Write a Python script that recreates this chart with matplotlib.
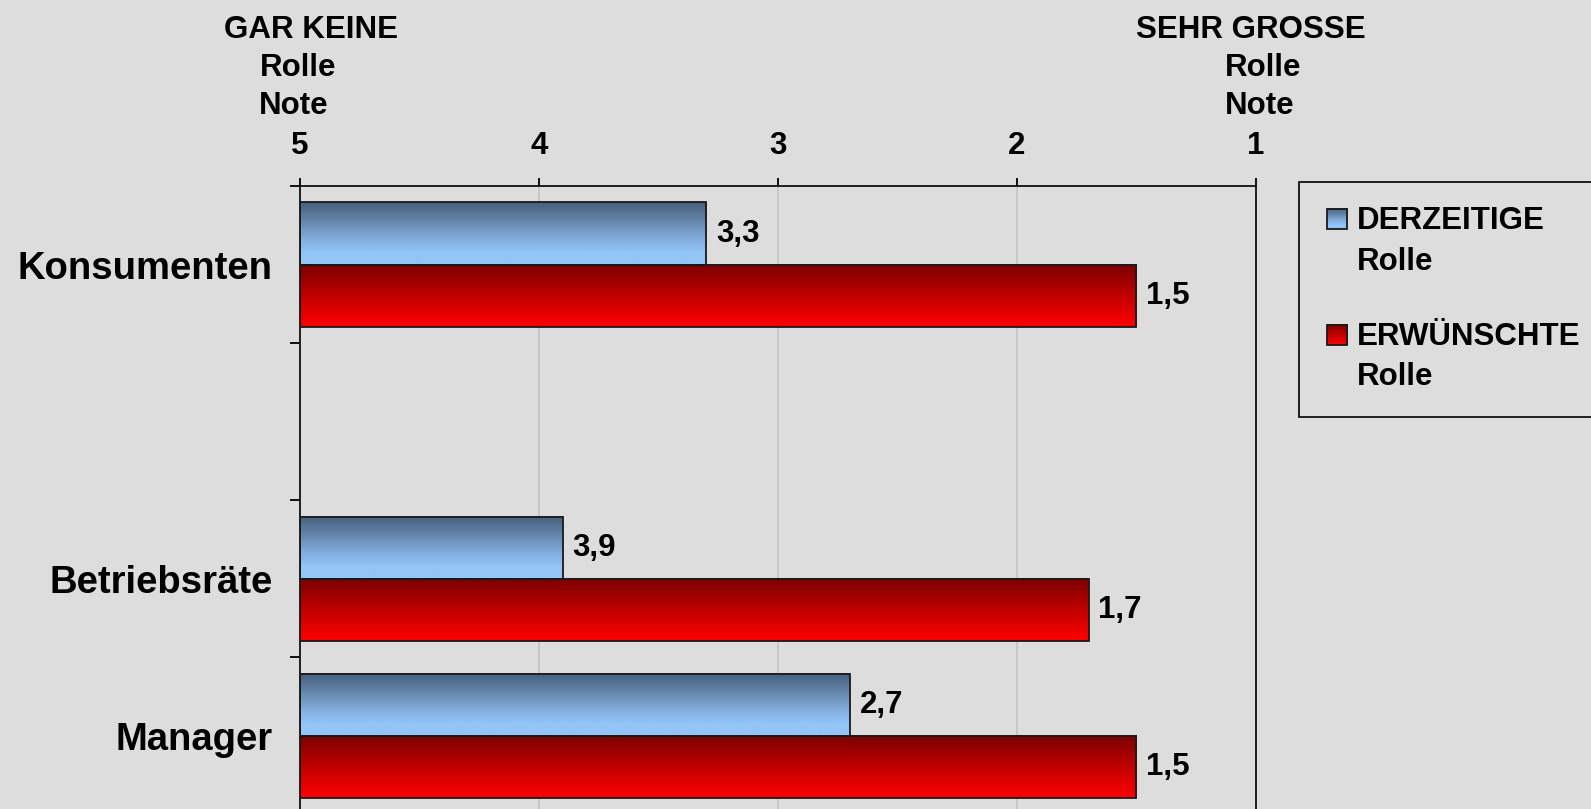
import numpy as np
import matplotlib
matplotlib.use("Agg")
import matplotlib.pyplot as plt
from matplotlib.colors import LinearSegmentedColormap
from matplotlib.patches import Rectangle
from matplotlib.legend_handler import HandlerBase
from matplotlib.image import BboxImage
from matplotlib.transforms import Bbox, TransformedBbox

# data
categories = ["Konsumenten", "", "Betriebsräte", "Manager"]
derzeitig = [3.3, np.nan, 3.9, 2.7]
erwuenscht = [1.5, np.nan, 1.7, 1.5]
value_labels_d = ["3,3", "", "3,9", "2,7"]
value_labels_e = ["1,5", "", "1,7", "1,5"]
xticks = [5, 4, 3, 2, 1]
series_names = ["DERZEITIGE\nRolle", "ERWÜNSCHTE\nRolle"]

plt.rcParams['font.family'] = ['Liberation Sans', 'DejaVu Sans']
plt.rcParams['font.weight'] = 'bold'

bg = '#dddddd'
blue_cmap = LinearSegmentedColormap.from_list(
    'bl', [(0, '#46607c'), (0.25, '#5f7fa3'), (0.55, '#7fa9d9'), (0.8, '#93c5f8'), (1, '#93c5f8')])
red_cmap = LinearSegmentedColormap.from_list(
    'rd', [(0, '#7a0000'), (0.5, '#c00000'), (1, '#ff0000')])
grad = np.linspace(0, 1, 256).reshape(-1, 1)

fig = plt.figure(figsize=(15.91, 8.09), dpi=100, facecolor=bg)
ax = fig.add_axes([0.1886, -0.0068, 0.6008, 0.7769])
ax.set_facecolor(bg)

y = np.arange(len(categories))
h = 0.395


def grad_bar(yc, val, cmap):
    if np.isnan(val):
        return
    ax.imshow(grad, cmap=cmap, aspect='auto', extent=[5, val, yc + h / 2, yc - h / 2],
              origin='upper', zorder=2, interpolation='bilinear')
    ax.barh(yc, val - 5, left=5, height=h, facecolor='none', edgecolor='#1a1a1a',
            linewidth=1.3, zorder=3)


for i in range(len(categories)):
    grad_bar(y[i] - h / 2, derzeitig[i], blue_cmap)
    grad_bar(y[i] + h / 2, erwuenscht[i], red_cmap)
    if not np.isnan(derzeitig[i]):
        ax.annotate(value_labels_d[i], (derzeitig[i], y[i] - h / 2), xytext=(7, 0),
                    textcoords='offset points', va='center', ha='left', fontsize=22.5,
                    fontweight='bold')
    if not np.isnan(erwuenscht[i]):
        ax.annotate(value_labels_e[i], (erwuenscht[i], y[i] + h / 2), xytext=(7, 0),
                    textcoords='offset points', va='center', ha='left', fontsize=22.5,
                    fontweight='bold')

ax.set_xlim(5, 1)
ax.set_ylim(len(categories) - 0.5, -0.5)
ax.xaxis.tick_top()
ax.set_xticks(xticks)
ax.set_xticklabels([str(t) for t in xticks], fontsize=22.5, fontweight='bold')
ax.tick_params(axis='x', direction='out', length=6, width=1.3, pad=12)
ax.grid(axis='x', color='#c4c4c4', linewidth=1.3, zorder=0)
ax.set_axisbelow(True)

ax.set_yticks(y)
ax.set_yticklabels(categories, fontsize=27.5, fontweight='bold')
ax.set_yticks(np.arange(-0.5, len(categories)), minor=True)
ax.tick_params(axis='y', which='major', length=0, pad=20)
ax.tick_params(axis='y', which='minor', direction='out', length=7, width=1.3)

for s in ['top', 'left', 'right', 'bottom']:
    ax.spines[s].set_linewidth(1.3)
    ax.spines[s].set_color('#111111')

# captions above both ends of the scale
trans = ax.get_xaxis_transform()
for lbl, xx, py in [("GAR KEINE", 4.953, 30), ("Rolle", 5.008, 68), ("Note", 5.025, 106.5),
                    ("SEHR GROSSE", 1.02, 30), ("Rolle", 0.968, 68), ("Note", 0.985, 106.5)]:
    fy = 1 - py / 809
    ax.annotate(lbl, xy=(xx, 0), xycoords=trans, xytext=(xx, fy),
                textcoords=(ax.transData, fig.transFigure), ha='center', va='center',
                fontsize=22.5, fontweight='bold', annotation_clip=False)


class GradHandler(HandlerBase):
    def __init__(self, cmap):
        super().__init__()
        self.cmap = cmap

    def create_artists(self, legend, orig_handle, xdescent, ydescent, width, height,
                       fontsize, trans):
        s = 14.5
        x0 = -xdescent + (width - s) / 2 + 0.5
        y0 = -ydescent + (height - s) / 2 + 16.5
        bb = TransformedBbox(Bbox.from_bounds(x0, y0, s, s), trans)
        img = BboxImage(bb, cmap=self.cmap, interpolation='bilinear')
        img.set_data(grad)
        rect = Rectangle((x0, y0), s, s, facecolor='none', edgecolor='#1a1a1a',
                         linewidth=1.3, transform=trans)
        return [img, rect]


hb = Rectangle((0, 0), 1, 1)
hr = Rectangle((0, 0), 1, 1, facecolor='red')
leg = fig.legend([hb, hr], series_names, loc='upper left',
                 bbox_to_anchor=(1299 / 1591, 1 - 182 / 809),
                 handler_map={hb: GradHandler(blue_cmap), hr: GradHandler(red_cmap)},
                 prop={'size': 22.5, 'weight': 'bold'}, frameon=True, fancybox=False,
                 facecolor=bg, edgecolor='#111111', framealpha=1, labelspacing=1.45,
                 handlelength=0.8, handletextpad=0.28, borderpad=0.78, borderaxespad=0)
leg.get_frame().set_linewidth(1.3)
for t in leg.get_texts():
    t.set_linespacing(1.45)

fig.savefig("out.png", dpi=100, facecolor=bg)
